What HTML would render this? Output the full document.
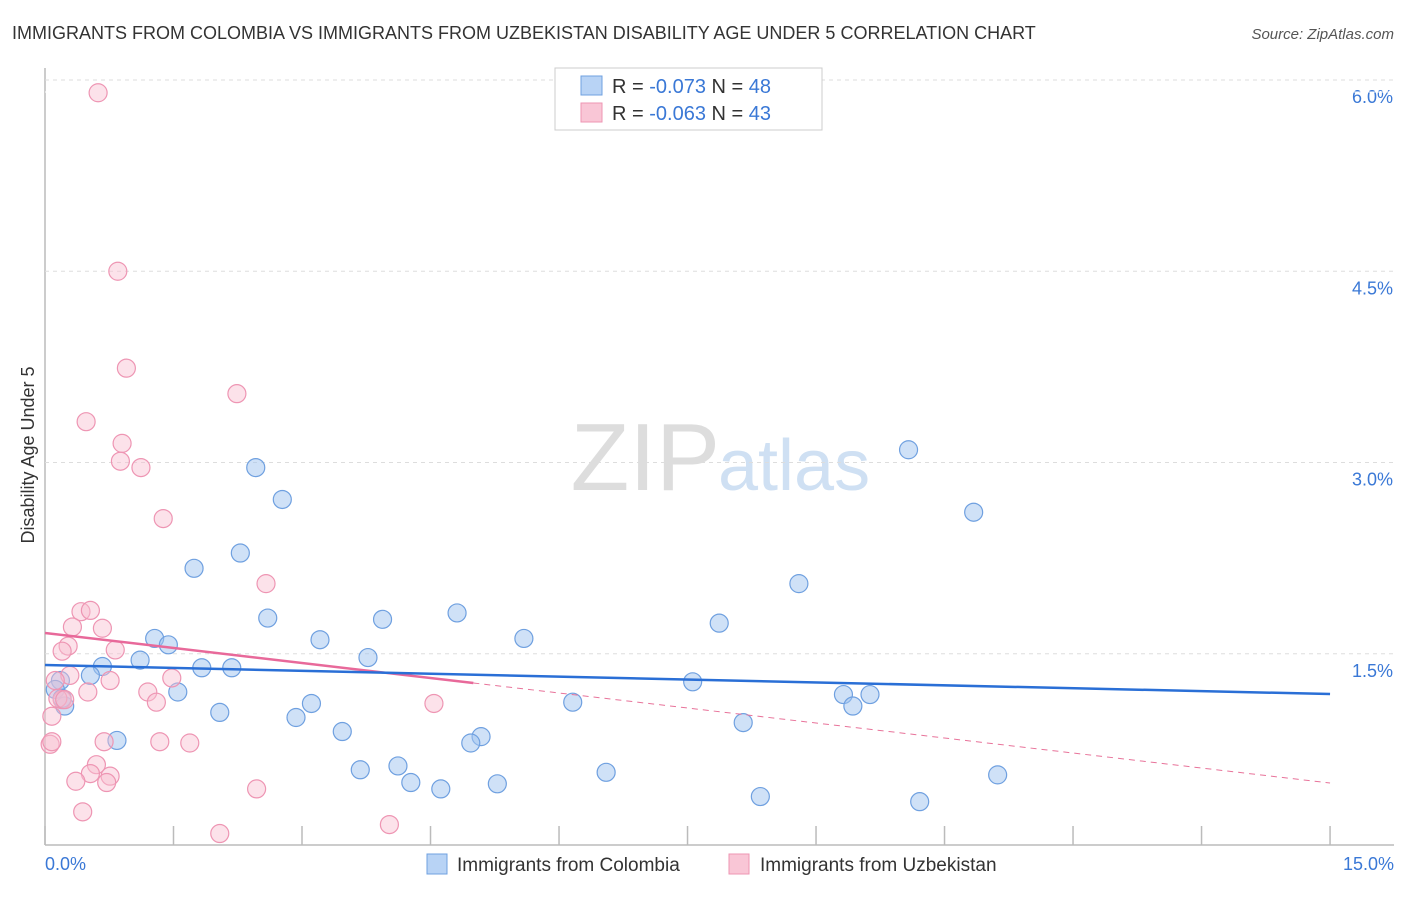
<!DOCTYPE html>
<html><head><meta charset="utf-8"><style>
body{margin:0;background:#fff;font-family:"Liberation Sans",sans-serif;}
svg text{font-family:"Liberation Sans",sans-serif;}
</style></head><body>
<svg id="chart" width="1406" height="892">
<text x="12" y="39" font-size="18" fill="#333">IMMIGRANTS FROM COLOMBIA VS IMMIGRANTS FROM UZBEKISTAN DISABILITY AGE UNDER 5 CORRELATION CHART</text>
<text x="1394" y="39" font-size="15" fill="#555" font-style="italic" text-anchor="end">Source: ZipAtlas.com</text>
<text x="720" y="490" font-size="96" fill="#ddd" text-anchor="end" font-family="Liberation Serif">ZIP</text>
<text x="718" y="490" font-size="72" fill="#cfe0f3">atlas</text>
<text x="34" y="455" font-size="18" fill="#333" transform="rotate(-90 34 455)" text-anchor="middle">Disability Age Under 5</text>
<g id="grid"></g><g id="pts"></g><g id="lines"></g>
<g>
<rect x="555" y="68" width="267" height="62" fill="#fff" stroke="#ccc"/>
<rect x="581" y="76" width="21" height="19" fill="#b8d3f5" stroke="#6fa0e0"/>
<rect x="581" y="103" width="21" height="19" fill="#f9c6d6" stroke="#ee95b3"/>
<text x="612" y="93" font-size="20" fill="#333">R = <tspan fill="#3a78d6">-0.073</tspan>   N = <tspan fill="#3a78d6">48</tspan></text>
<text x="612" y="120" font-size="20" fill="#333">R = <tspan fill="#3a78d6">-0.063</tspan>   N = <tspan fill="#3a78d6">43</tspan></text>
</g>
<g>
<rect x="427" y="854" width="20" height="20" fill="#b8d3f5" stroke="#6fa0e0"/>
<text x="457" y="871" font-size="19" fill="#333">Immigrants from Colombia</text>
<rect x="729" y="854" width="20" height="20" fill="#f9c6d6" stroke="#ee95b3"/>
<text x="760" y="871" font-size="19" fill="#333">Immigrants from Uzbekistan</text>
</g>
<text x="45" y="870" font-size="18" fill="#3a78d6">0.0%</text>
<text x="1394" y="870" font-size="18" fill="#3a78d6" text-anchor="end">15.0%</text>
</svg>
<script>
const yTicks=[1.5,3.0,4.5,6.0];
const yTickLabels=["1.5%","3.0%","4.5%","6.0%"];
const xTicks=[0,1.5,3,4.5,6,7.5,9,10.5,12,13.5,15];
const blueX=[2.46,2.77,2.28,1.74,10.08,10.84,8.8,2.6,4.81,3.94,1.28,3.21,5.59,7.87,1.44,1.11,3.77,0.67,1.83,2.18,0.53,0.18,1.55,7.56,9.32,9.63,9.43,6.16,3.11,2.04,2.93,0.23,0.12,8.15,3.47,0.84,5.09,4.97,4.12,3.68,6.55,11.12,4.27,5.28,4.62,8.35,10.21,0.2];
const blueY=[2.96,2.71,2.29,2.17,3.1,2.61,2.05,1.78,1.82,1.77,1.62,1.61,1.62,1.74,1.57,1.45,1.47,1.4,1.39,1.39,1.33,1.29,1.2,1.28,1.18,1.18,1.09,1.12,1.11,1.04,1.0,1.09,1.22,0.96,0.89,0.82,0.85,0.8,0.62,0.59,0.57,0.55,0.49,0.48,0.44,0.38,0.34,1.15];
const pinkX=[0.62,0.85,0.95,2.24,0.48,0.9,0.88,1.12,1.38,2.58,0.42,0.53,0.32,0.67,0.27,0.2,0.82,1.48,0.5,1.2,1.3,4.54,0.29,0.2,0.15,0.08,0.06,0.08,0.69,1.34,1.69,0.6,0.53,0.76,0.72,0.36,2.47,0.44,2.04,4.02,0.23,0.12,0.76];
const pinkY=[5.9,4.5,3.74,3.54,3.32,3.15,3.01,2.96,2.56,2.05,1.83,1.84,1.71,1.7,1.56,1.52,1.53,1.31,1.2,1.2,1.12,1.11,1.33,1.14,1.15,1.01,0.79,0.81,0.81,0.81,0.8,0.63,0.56,0.54,0.49,0.5,0.44,0.26,0.09,0.16,1.14,1.29,1.29];
const blueTrend=[1.412,1.184];
const pinkTrend=[1.663,0.486];
const pinkSolidEnd=5.0;
const X=v=>45+v*85.67, Y=v=>845-v*127.5;
const NS="http://www.w3.org/2000/svg";
function mk(tag,attrs,parent){const e=document.createElementNS(NS,tag);for(const k in attrs)e.setAttribute(k,attrs[k]);parent.appendChild(e);return e;}
const g=document.getElementById('grid');
const ax=mk('line',{x1:45,y1:68,x2:45,y2:845,stroke:'#bbb','stroke-width':1.5},g);


const bx=mk('line',{x1:45,y1:845,x2:1394,y2:845,stroke:'#bbb','stroke-width':1.5},g);


yTicks.forEach((t,i)=>{
const l=mk('line',{x1:45,y1:Y(t),x2:1394,y2:Y(t),stroke:'#ddd','stroke-dasharray':'4,4'},g);


const tx=mk('text',{x:1393,y:Y(t)+23,'font-size':18,fill:'#3a78d6','text-anchor':'end'},g);
tx.textContent=yTickLabels[i];


});
const t0=mk('line',{x1:45,y1:Y(6.0)+12,x2:1394,y2:Y(6.0)+12,stroke:'#fff'},g);
xTicks.forEach(t=>{
const l=mk('line',{x1:X(t),y1:826,x2:X(t),y2:845,stroke:'#bbb','stroke-width':1.5},g);


});
const p=document.getElementById('pts');
blueX.forEach((x,i)=>{
const c=mk('circle',{cx:X(x),cy:Y(blueY[i]),r:9,fill:'rgba(160,196,240,0.5)',stroke:'#6fa0e0','stroke-width':1.2},p);


});
pinkX.forEach((x,i)=>{
const c=mk('circle',{cx:X(x),cy:Y(pinkY[i]),r:9,fill:'rgba(248,190,208,0.45)',stroke:'#ee95b3','stroke-width':1.2},p);


});
const L=document.getElementById('lines');
const pk=v=>pinkTrend[0]+(pinkTrend[1]-pinkTrend[0])*v/15;
const pd=mk('line',{x1:X(pinkSolidEnd),y1:Y(pk(pinkSolidEnd)),x2:X(15),y2:Y(pinkTrend[1]),stroke:'#e8739a','stroke-width':1,'stroke-dasharray':'6,5'},L);


const ps=mk('line',{x1:X(0),y1:Y(pinkTrend[0]),x2:X(pinkSolidEnd),y2:Y(pk(pinkSolidEnd)),stroke:'#e8699a','stroke-width':2.5},L);


const bl=mk('line',{x1:X(0),y1:Y(blueTrend[0]),x2:X(15),y2:Y(blueTrend[1]),stroke:'#2a6fd6','stroke-width':2.5},L);


</script>
</body></html>
